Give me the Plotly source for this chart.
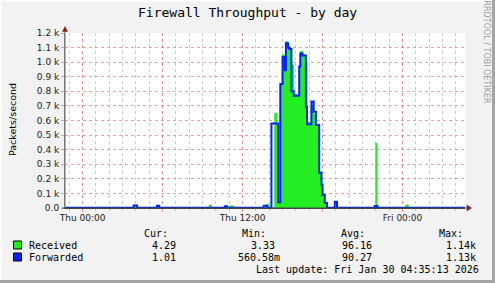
import plotly.graph_objects as go

# ---------------- data ----------------
received_time = [
    "2026-01-28 22:35", "2026-01-29 09:30", "2026-01-29 09:40", "2026-01-29 11:00", "2026-01-29 11:20",
    "2026-01-29 13:50", "2026-01-29 14:00", "2026-01-29 14:25", "2026-01-29 14:35", "2026-01-29 14:50",
    "2026-01-29 15:00", "2026-01-29 15:10", "2026-01-29 15:15", "2026-01-29 15:25", "2026-01-29 15:30",
    "2026-01-29 15:40", "2026-01-29 15:50", "2026-01-29 16:15", "2026-01-29 16:20", "2026-01-29 16:30",
    "2026-01-29 16:40", "2026-01-29 16:50", "2026-01-29 17:10", "2026-01-29 17:20", "2026-01-29 17:30",
    "2026-01-29 17:45", "2026-01-29 17:55", "2026-01-29 18:00", "2026-01-29 18:10", "2026-01-29 18:20",
    "2026-01-29 22:00", "2026-01-29 22:05", "2026-01-29 22:10", "2026-01-30 00:15", "2026-01-30 00:25",
    "2026-01-30 04:40",
]
received_val = [
    4, 20, 4, 14, 4,
    25, 4, 650, 40, 850,
    1050, 950, 1140, 1110, 1100,
    980, 780, 980, 1075, 1050,
    1000, 590, 700, 640, 560,
    250, 180, 100, 40, 4,
    444, 20, 4, 20, 4,
    4,
]

forwarded_time = [
    "2026-01-28 22:35", "2026-01-29 03:50", "2026-01-29 04:05", "2026-01-29 05:35", "2026-01-29 05:45",
    "2026-01-29 10:40", "2026-01-29 10:50", "2026-01-29 13:35", "2026-01-29 13:50", "2026-01-29 14:10",
    "2026-01-29 14:40", "2026-01-29 14:50", "2026-01-29 15:00", "2026-01-29 15:10", "2026-01-29 15:15",
    "2026-01-29 15:25", "2026-01-29 15:30", "2026-01-29 15:40", "2026-01-29 15:50", "2026-01-29 16:15",
    "2026-01-29 16:20", "2026-01-29 16:30", "2026-01-29 16:45", "2026-01-29 16:50", "2026-01-29 17:10",
    "2026-01-29 17:20", "2026-01-29 17:30", "2026-01-29 17:45", "2026-01-29 17:55", "2026-01-29 18:00",
    "2026-01-29 18:10", "2026-01-29 18:20", "2026-01-29 18:55", "2026-01-29 19:05", "2026-01-29 21:55",
    "2026-01-29 22:05", "2026-01-30 04:40",
]
forwarded_val = [
    1, 18, 1, 15, 1,
    12, 1, 15, 1, 580,
    40, 850, 1035, 945, 1130,
    1100, 1090, 800, 770, 970,
    1060, 1045, 695, 575, 730,
    660, 570, 240, 160, 90,
    35, 1, 43, 1, 14,
    1, 1,
]

x_tick_vals = ["2026-01-29 00:00", "2026-01-29 06:00", "2026-01-29 12:00", "2026-01-29 18:00", "2026-01-30 00:00"]
x_tick_text = ["Thu 00:00", "", "Thu 12:00", "", "Fri 00:00"]
y_tick_vals = [0, 100, 200, 300, 400, 500, 600, 700, 800, 900, 1000, 1100, 1200]
y_tick_text = ["0.0", "0.1 k", "0.2 k", "0.3 k", "0.4 k", "0.5 k", "0.6 k", "0.7 k",
               "0.8 k", "0.9 k", "1.0 k", "1.1 k", "1.2 k"]

title_text = "Firewall Throughput - by day"
y_title = "Packets/second"
series_names = ["Received", "Forwarded"]
stat_headers = ["Cur:", "Min:", "Avg:", "Max:"]
received_stats = ["4.29", "3.33", "96.16", "1.14k"]
forwarded_stats = ["1.01", "560.58m", "90.27", "1.13k"]
last_update = "Last update: Fri Jan 30 04:35:13 2026"
watermark = "RRDTOOL / TOBI OETIKER"

GREEN = "#22ee22"
BLUE = "#0022ff"

# ---------------- layout helpers ----------------
FW, FH = 495, 283
L, T, W, H = 65, 33, 400, 175


def px(x):
    return (x - L) / W


def py(y):
    return (T + H - y) / H


fig = go.Figure()
fig.add_trace(go.Scatter(
    x=received_time, y=received_val, mode="lines", line_shape="hv",
    line=dict(color=GREEN, width=1), fill="tozeroy", fillcolor=GREEN,
    name=series_names[0], showlegend=False, hoverinfo="skip"))
fig.add_trace(go.Scatter(
    x=forwarded_time, y=forwarded_val, mode="lines", line_shape="hv",
    line=dict(color=BLUE, width=2), name=series_names[1], showlegend=False, hoverinfo="skip"))

MONO = "DejaVu Sans Mono"
SANS = "DejaVu Sans"
MAJ = "rgba(235,120,120,0.7)"
MIN = "rgba(150,150,150,0.5)"

fig.update_layout(
    width=FW, height=FH,
    margin=dict(l=L, r=FW - L - W, t=T, b=FH - T - H),
    paper_bgcolor="#f2f2f2", plot_bgcolor="#ffffff",
    xaxis=dict(
        type="date", range=["2026-01-28 22:41", "2026-01-30 04:41"],
        tickmode="array", tickvals=x_tick_vals, ticktext=x_tick_text,
        showgrid=True, gridcolor=MAJ, griddash="dot", gridwidth=1,
        ticks="outside", ticklen=3, tickcolor=MAJ, ticklabelstandoff=-2,
        showline=True, linecolor="#444444", linewidth=1, zeroline=False,
        tickfont=dict(family=SANS, size=9, color="#222222"),
        minor=dict(tickmode="linear", tick0="2026-01-29 00:00", dtick=3600000,
                   showgrid=True, gridcolor=MIN, griddash="dot", gridwidth=1,
                   ticks="outside", ticklen=2, tickcolor=MIN),
        fixedrange=True,
    ),
    yaxis=dict(
        range=[0, 1200], tickmode="array", tickvals=y_tick_vals, ticktext=y_tick_text,
        showgrid=True, gridcolor=MAJ, griddash="dot", gridwidth=1,
        ticks="outside", ticklen=3, tickcolor=MAJ,
        showline=True, linecolor="#777777", linewidth=1, zeroline=False,
        tickfont=dict(family=SANS, size=9, color="#222222"),
        fixedrange=True,
    ),
    showlegend=False,
)

shapes = []
# axis extensions and arrows
shapes.append(dict(type="line", xref="paper", yref="paper", x0=px(65), x1=px(65), y0=py(208), y1=py(29),
                   line=dict(color="#777777", width=1)))
shapes.append(dict(type="path", xref="paper", yref="paper",
                   path=f"M {px(62.5)} {py(31.5)} L {px(67.5)} {py(31.5)} L {px(65)} {py(26.5)} Z",
                   fillcolor="#8b1a1a", line=dict(color="#8b1a1a", width=0.5)))
shapes.append(dict(type="line", xref="paper", yref="paper", x0=px(62), x1=px(468), y0=py(208), y1=py(208),
                   line=dict(color="#444444", width=1)))
shapes.append(dict(type="path", xref="paper", yref="paper",
                   path=f"M {px(467)} {py(205)} L {px(467)} {py(211)} L {px(471.5)} {py(208)} Z",
                   fillcolor="#8b1a1a", line=dict(color="#8b1a1a", width=0.5)))
# legend swatches
for yc, col in [(245, GREEN), (257, BLUE)]:
    shapes.append(dict(type="rect", xref="paper", yref="paper",
                       x0=px(13.5), x1=px(21.5), y0=py(yc - 4), y1=py(yc + 4),
                       fillcolor=col, line=dict(color="#000000", width=1)))
# frame shading
shapes.append(dict(type="rect", xref="paper", yref="paper", x0=px(0), x1=px(2), y0=py(0), y1=py(283),
                   fillcolor="#fcfcfc", line=dict(width=0), layer="below"))
shapes.append(dict(type="rect", xref="paper", yref="paper", x0=px(0), x1=px(495), y0=py(0), y1=py(2),
                   fillcolor="#fcfcfc", line=dict(width=0), layer="below"))
shapes.append(dict(type="rect", xref="paper", yref="paper", x0=px(492), x1=px(495), y0=py(0), y1=py(283),
                   fillcolor="#a4a4a4", line=dict(width=0)))
shapes.append(dict(type="rect", xref="paper", yref="paper", x0=px(0), x1=px(495), y0=py(280), y1=py(283),
                   fillcolor="#a4a4a4", line=dict(width=0)))
fig.update_layout(shapes=shapes)

ann = []


def text(x, y, s, anchor="left", size=10, family=MONO, color="#000000", angle=0):
    ann.append(dict(x=px(x), y=py(y), xref="paper", yref="paper", text=s, showarrow=False,
                    xanchor=anchor, yanchor="middle", textangle=angle,
                    font=dict(family=family, size=size, color=color)))


text(247, 13, title_text, anchor="center", size=13)
text(12, 120, y_title, anchor="center", size=9.5, family=SANS, angle=-90)
text(485.5, 52, watermark, anchor="center", size=8, family=SANS, color="#a0a0a0", angle=90)

header_right = [170, 268, 367, 465]
value_right = [178, 277, 374, 478]
fwd_right = [178, 282, 374, 478]
for i, h in enumerate(stat_headers):
    text(header_right[i], 233.5, h, anchor="right")
text(27, 245, series_names[0])
text(27, 257, series_names[1])
for i, v in enumerate(received_stats):
    text(value_right[i], 245, v, anchor="right")
for i, v in enumerate(forwarded_stats):
    text(fwd_right[i], 257, v, anchor="right")
text(481, 269.5, last_update, anchor="right")

fig.update_layout(annotations=ann)
fig.write_html("out.html")
